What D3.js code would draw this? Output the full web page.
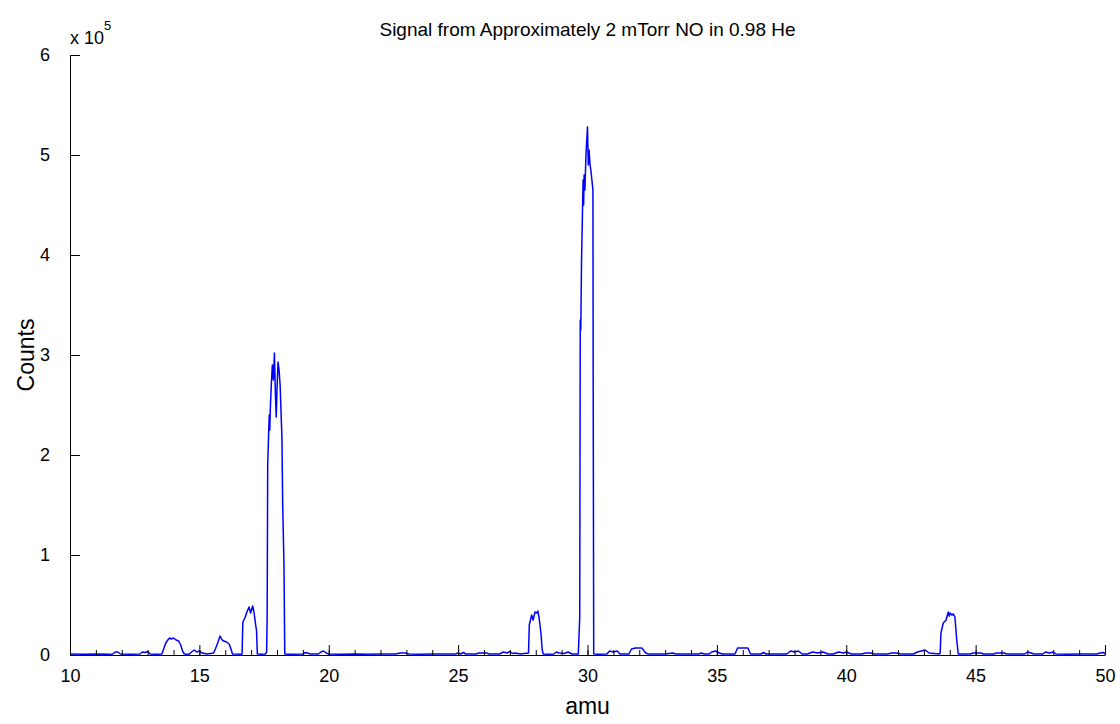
<!DOCTYPE html>
<html>
<head>
<meta charset="utf-8">
<script src="https://cdn.jsdelivr.net/npm/d3@7"></script>
<style>
  body { margin: 0; background: #fff; }
  svg { font-family: "Liberation Sans", Arial, sans-serif; }
</style>
</head>
<body>
<div id="chart"></div>
<script>
const title = "Signal from Approximately 2 mTorr NO in 0.98 He"
const xTicks = [10, 15, 20, 25, 30, 35, 40, 45, 50]
const yTicks = [0, 1, 2, 3, 4, 5, 6]

// amu and counts
const amu = [
  10.0, 10.5, 11.0, 11.5, 11.65, 11.75, 11.85, 11.95, 12.3, 12.7, 12.8, 12.9, 13.0, 13.1, 13.3,
  13.55, 13.62, 13.7, 13.78, 13.85, 13.92, 14.0, 14.1, 14.2, 14.28, 14.35, 14.42,
  14.6, 14.7, 14.8, 14.9, 15.0, 15.1, 15.3,
  15.55, 15.65, 15.72, 15.8, 15.88, 15.95, 16.05, 16.15, 16.22, 16.28,
  16.6, 16.65, 16.68, 16.76, 16.85, 16.92, 16.98, 17.06, 17.11, 17.16, 17.21, 17.24,
  17.4, 17.55, 17.6,
  17.62, 17.64, 17.67, 17.70, 17.72, 17.74, 17.78, 17.82, 17.86, 17.9, 17.94, 17.97,
  18.0, 18.04, 18.08, 18.12, 18.16, 18.19, 18.22, 18.27, 18.3,
  18.5, 19.0, 19.1, 19.3, 19.6, 19.7, 19.8, 19.9, 20.0, 20.4, 21.0, 21.5, 22.0,
  22.6, 22.75, 22.95, 23.1, 23.5, 24.0, 24.9, 25.0, 25.1, 25.2, 25.3,
  25.7, 25.8, 26.1, 26.2, 26.6, 26.75, 26.9, 27.0, 27.1, 27.2, 27.4, 27.72,
  27.75, 27.84, 27.9, 27.97, 28.04, 28.08, 28.13, 28.2, 28.25, 28.29,
  28.5, 28.7, 28.8, 28.9, 29.1, 29.25, 29.4, 29.55,
  29.645, 29.70, 29.72, 29.74, 29.77, 29.83, 29.85, 29.87, 29.90, 29.94, 30.0, 30.03,
  30.06, 30.10, 30.13, 30.21, 30.22, 30.24,
  30.4, 30.75, 30.85, 31.0, 31.15, 31.25, 31.6, 31.7, 31.85, 32.1, 32.25, 32.35,
  33.0, 33.3, 33.4, 34.3, 34.4, 34.5, 34.7, 34.8, 34.95, 35.1, 35.2,
  35.7, 35.8, 36.2, 36.3, 36.7, 36.8, 36.9, 37.7, 37.85, 38.0, 38.15, 38.3,
  38.5, 38.7, 38.9, 39.1, 39.3, 39.5, 39.7, 39.9, 40.0, 40.2,
  40.6, 40.75, 40.95, 41.1, 41.6, 41.75, 41.95, 42.1, 42.6, 42.75, 42.9, 43.05, 43.2, 43.6,
  43.63, 43.66, 43.75, 43.86, 43.94, 43.98, 44.01, 44.08, 44.14, 44.2, 44.27, 44.33,
  44.8, 44.9, 45.2, 45.3, 45.7, 45.8, 46.1, 46.2, 46.9, 47.0, 47.15, 47.25,
  47.6, 47.7, 47.85, 48.0, 48.1, 48.5, 49.0, 49.7, 49.8, 49.95, 50.0
]
const counts = [
  1000, 800, 1000, 800, 1000, 3000, 3000, 1000, 800, 1000, 3000, 2500, 3500, 1000, 800,
  1000, 6000, 12000, 15000, 17000, 16000, 17000, 15000, 14000, 10000, 4000, 1000,
  800, 3000, 5000, 3000, 4000, 2000, 1000,
  2000, 8000, 13000, 19000, 15000, 14000, 13000, 11000, 6000, 1000,
  800, 1000, 33000, 37000, 44000, 48000, 42000, 49000, 43000, 33000, 24000, 1000,
  800, 1000, 3000,
  40000, 190000, 215000, 240000, 225000, 245000, 270000, 290000, 275000, 302000, 260000, 238000,
  265000, 293000, 285000, 270000, 240000, 218000, 150000, 90000, 1000,
  800, 1000, 2500, 1000, 1000, 3000, 4000, 2000, 1000, 800, 1000, 800, 1000,
  1000, 2000, 2000, 1000, 800, 1000, 1000, 2000, 1000, 2500, 1000,
  1000, 2000, 2000, 1000, 1000, 3000, 2000, 3500, 1500, 2000, 1000, 2000,
  30000, 40000, 35000, 43000, 42000, 44000, 37000, 22000, 5000, 1000,
  800, 1000, 3000, 2000, 1500, 3000, 1000, 1000,
  1000, 38000, 335000, 325000, 395000, 475000, 450000, 480000, 465000, 500000, 528000, 490000,
  505000, 490000, 485000, 465000, 265000, 1000,
  800, 1000, 4000, 3000, 4000, 1000, 1000, 6000, 7000, 7000, 2000, 1000,
  1000, 2000, 1000, 1000, 2000, 1000, 1000, 3000, 4000, 2000, 1000,
  1000, 7000, 7000, 1000, 1000, 2500, 1000, 1000, 4000, 3000, 4000, 1000,
  1000, 3000, 2000, 3000, 1000, 1000, 3000, 2000, 3000, 1000,
  1000, 2000, 2000, 1000, 1000, 2000, 2000, 1000, 1000, 3000, 4000, 5000, 2000, 1000,
  2000, 22000, 32000, 35000, 43000, 39000, 42000, 40000, 41000, 38000, 15000, 1000,
  1000, 2000, 2000, 1000, 1000, 2000, 2000, 1000, 1000, 3000, 2000, 1000,
  1000, 3000, 2000, 3000, 1000, 800, 1000, 1000, 2000, 2500, 1000
]

const width = 1120, height = 724
const margin = { top: 55, right: 15, bottom: 69, left: 70 }

const svg = d3.select("#chart").append("svg")
  .attr("width", width)
  .attr("height", height)

const x = d3.scaleLinear()
  .domain([10, 50])
  .range([margin.left, width - margin.right])
const y = d3.scaleLinear()
  .domain([0, 6e5])
  .range([height - margin.bottom, margin.top])

// trace first, axes drawn over it
const line = d3.line()
  .x((d, i) => x(amu[i]))
  .y((d, i) => y(counts[i]))

svg.append("path")
  .datum(counts)
  .attr("d", line)
  .attr("fill", "none")
  .attr("stroke", "#0000ff")
  .attr("stroke-width", 1.5)
  .attr("stroke-linejoin", "round")

// minor x ticks every amu
svg.append("g")
  .attr("transform", `translate(0,${height - margin.bottom})`)
  .call(d3.axisBottom(x).tickValues(d3.range(10, 51)).tickSize(-5).tickFormat(""))
  .call(g => g.select(".domain").remove())

const xAxis = svg.append("g")
  .attr("transform", `translate(0,${height - margin.bottom})`)
  .call(d3.axisBottom(x).tickValues(xTicks).tickSizeInner(-10).tickSizeOuter(0).tickPadding(14))
xAxis.selectAll("text").style("font-size", "18px").attr("fill", "#000")

const yAxis = svg.append("g")
  .attr("transform", `translate(${margin.left},0)`)
  .call(d3.axisLeft(y).tickValues(yTicks.map(v => v * 1e5)).tickFormat((d, i) => yTicks[i])
    .tickSizeInner(-10).tickSizeOuter(0).tickPadding(20))
yAxis.selectAll("text").style("font-size", "18px").attr("fill", "#000")

svg.selectAll(".domain, .tick line").attr("stroke", "#000")

// exponent label
const expo = svg.append("text")
  .attr("x", margin.left)
  .attr("y", 44)
  .style("font-size", "18px")
expo.append("tspan").text("x 10")
expo.append("tspan").attr("dy", -14).style("font-size", "13px").text("5")

svg.append("text")
  .attr("x", (margin.left + width - margin.right) / 2)
  .attr("y", 36)
  .attr("text-anchor", "middle")
  .style("font-size", "19px")
  .text(title)

svg.append("text")
  .attr("x", (margin.left + width - margin.right) / 2)
  .attr("y", 714)
  .attr("text-anchor", "middle")
  .style("font-size", "23px")
  .text("amu")

svg.append("text")
  .attr("transform", `translate(34,${(margin.top + height - margin.bottom) / 2}) rotate(-90)`)
  .attr("text-anchor", "middle")
  .style("font-size", "23px")
  .text("Counts")
</script>
</body>
</html>
